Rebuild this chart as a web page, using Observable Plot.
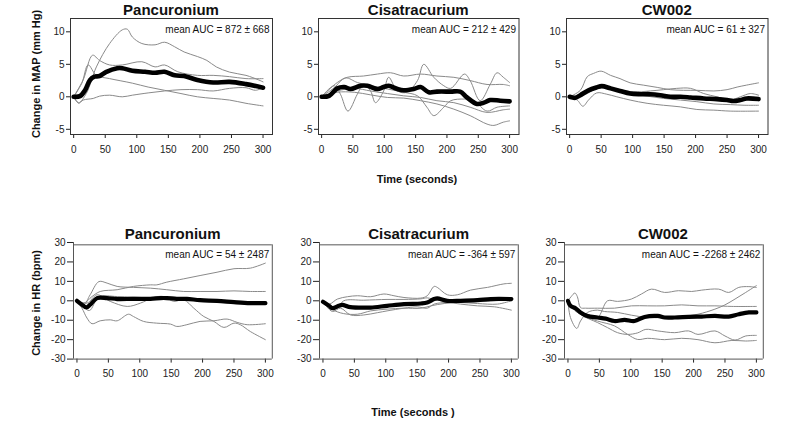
<!DOCTYPE html>
<html>
<head>
<meta charset="utf-8">
<script src="https://cdn.jsdelivr.net/npm/d3@7"></script>
<script src="https://cdn.jsdelivr.net/npm/@observablehq/plot@0.6"></script>
<style>
  body { margin: 0; background: white; }
  #chart { position: relative; width: 800px; height: 422px; overflow: hidden; background: white; font-family: "Liberation Sans", Arial, sans-serif; }
  #chart svg { position: absolute; }
</style>
</head>
<body>
<div id="chart"></div>
<script>
// ---------- data: [time (s), change] ----------
const timeTicks = [0, 50, 100, 150, 200, 250, 300];
const mapTicks = [-5, 0, 5, 10];
const hrTicks = [-30, -20, -10, 0, 10, 20, 30];
const drugs = ["Pancuronium", "Cisatracurium", "CW002"];
const mapAUC = ["mean AUC = 872 ± 668", "mean AUC = 212 ± 429", "mean AUC = 61 ± 327"];
const hrAUC = ["mean AUC = 54 ± 2487", "mean AUC = -364 ± 597", "mean AUC = -2268 ± 2462"];

// MAP – Pancuronium
const mapPancMean = [[0,0],[10,0.1],[18,1],[26,2.6],[33,3.1],[41,3.2],[51,3.8],[69,4.4],[77,4.4],[93,4.0],[113,3.85],[129,3.7],[144,3.85],[160,3.3],[175,3.2],[196,2.6],[221,2.2],[247,2.3],[273,1.95],[300,1.4]];
const mapPanc1 = [[0,0],[8,-0.9],[20,0.5],[36,4.6],[57,8.2],[77,10.3],[85,10.4],[93,9.2],[108,8.2],[129,8.0],[144,8.4],[160,7.7],[175,6.9],[196,6.2],[211,5.6],[226,4.6],[247,3.8],[273,3.3],[293,2.6],[300,2.3]];
const mapPanc2 = [[0,0],[15,2.6],[30,6.4],[41,5.6],[57,4.9],[77,4.9],[108,5.4],[129,4.6],[144,4.9],[165,3.85],[196,3.3],[221,3.3],[247,3.1],[273,2.8],[300,2.8]];
const mapPanc3 = [[0,0],[13,2.1],[23,4.9],[36,3.3],[57,2.8],[93,2.1],[118,1.5],[144,1.0],[170,0.5],[196,0],[221,-0.25],[247,-0.5],[273,-1.0],[300,-1.4]];
const mapPanc4 = [[0,0],[8,-1.0],[15,-0.5],[31,-0.25],[41,0.1],[57,0.25],[77,0],[93,0.25],[118,0.6],[144,0.9],[170,1.1],[196,1.1],[221,0.9],[247,1.3],[273,1.4],[288,1.0],[300,1.4]];

// MAP – Cisatracurium
const mapCisMean = [[0,0],[12,0.15],[25,1.3],[36,1.5],[46,1.2],[62,1.7],[73,1.7],[89,1.2],[99,1.5],[107,1.7],[121,1.2],[131,1.0],[147,1.2],[158,1.5],[171,0.7],[184,0.8],[206,0.8],[221,0.8],[232,-0.1],[248,-1.1],[259,-0.9],[269,-0.5],[285,-0.6],[300,-0.7]];
const mapCis1 = [[0,0],[20,1.7],[30,0.4],[42,-2.2],[57,0.4],[67,1.9],[78,0.9],[86,-0.9],[99,0.9],[107,3.0],[121,0.9],[136,0.7],[153,2.5],[163,5.0],[179,3.0],[195,1.7],[206,1.3],[228,3.5],[237,2.5],[253,-0.6],[269,1.9],[280,3.7],[290,3.0],[300,2.2]];
const mapCis2 = [[0,0],[25,2.2],[41,3.0],[67,3.2],[89,3.5],[110,3.7],[131,3.2],[158,3.5],[184,3.2],[211,3.0],[237,2.5],[264,1.9],[290,1.9],[300,1.7]];
const mapCis3 = [[0,0],[20,1.4],[38,2.9],[57,2.2],[78,1.7],[105,1.2],[131,0.7],[153,0.15],[168,-1.6],[179,-2.9],[195,-1.6],[206,-0.6],[228,-0.35],[243,-0.6],[264,-2.2],[280,-1.6],[300,-1.4]];
const mapCis4 = [[0,0],[25,0.9],[52,1.3],[78,0.9],[105,0.5],[131,0.15],[158,-0.1],[184,-0.6],[211,-0.9],[237,-1.6],[264,-2.4],[290,-2.0],[300,-1.9]];
const mapCis5 = [[0,0],[25,0.7],[52,0.7],[78,0.3],[105,-0.1],[131,-0.2],[158,-0.6],[184,-1.1],[211,-1.9],[237,-2.9],[264,-4.2],[275,-4.4],[290,-3.9],[300,-3.7]];

// MAP – CW002
const mapCwMean = [[0,0],[9,-0.15],[17,0.25],[30,1.0],[43,1.45],[51,1.65],[65,1.3],[80,0.9],[96,0.5],[112,0.4],[128,0.4],[144,0.25],[160,0],[176,0],[192,-0.1],[213,-0.25],[234,-0.35],[250,-0.5],[260,-0.65],[271,-0.5],[281,-0.25],[300,-0.35]];
const mapCw1 = [[0,0],[17,1.0],[28,3.1],[38,3.6],[50,3.95],[65,3.3],[80,2.8],[96,2.15],[117,1.8],[139,1.45],[160,1.1],[181,1.0],[202,1.0],[229,0.9],[250,1.1],[266,1.5],[281,1.8],[300,2.15]];
const mapCw2 = [[0,0],[12,-0.5],[21,-1.45],[30,-0.5],[43,0.6],[59,0.4],[75,0],[96,-0.5],[123,-1.0],[149,-1.3],[176,-1.55],[202,-1.95],[229,-2.05],[255,-2.2],[300,-2.2]];
const mapCw3 = [[0,0],[17,0],[33,1.1],[48,1.5],[70,1.0],[96,0.5],[123,0.1],[149,-0.25],[176,-0.5],[202,-0.75],[229,-1.1],[255,-1.2],[277,-1.3],[300,-1.3]];
const mapCw4 = [[0,0],[22,0.25],[43,1.3],[59,1.5],[80,1.1],[101,0.75],[128,0.9],[149,1.1],[170,1.3],[192,1.3],[213,0.5],[234,0],[255,-0.5],[271,0],[287,0.5],[300,0.25]];

// HR – Pancuronium
const hrPancMean = [[0,0],[8,-2],[15,-3.4],[21,-2],[32,1.4],[48,1.4],[64,0.9],[90,1.0],[117,1.0],[133,1.4],[143,1.4],[159,1.0],[175,1.0],[196,0.3],[223,0],[250,-0.7],[276,-1.2],[300,-1.2]];
const hrPanc1 = [[0,0],[11,-1.2],[24,2.2],[37,4.8],[64,5.7],[90,7.4],[117,8.2],[127,8.2],[143,9.6],[170,11.3],[196,13],[223,14.7],[250,16.5],[276,16.8],[300,19.4]];
const hrPanc2 = [[0,0],[11,-2],[21,3.1],[35,9.9],[48,9.1],[64,7.4],[90,6.9],[117,6.5],[143,5.7],[170,4.8],[196,4.8],[223,4.8],[250,5.1],[276,4.8],[300,4.8]];
const hrPanc3 = [[0,0],[8,-3.8],[16,-8.9],[24,-11.8],[37,-10.3],[53,-9.8],[64,-10.3],[82,-6.9],[90,-8.1],[106,-10.6],[127,-11.5],[149,-12],[159,-13.2],[175,-12.3],[196,-10.6],[218,-10.3],[239,-9.4],[255,-11.1],[271,-12.3],[300,-11.8]];
const hrPanc4 = [[0,0],[16,-1.2],[32,3.1],[53,-0.3],[80,-2.9],[101,-1.2],[122,1.7],[138,2.2],[154,-0.3],[170,0.5],[186,-3.8],[202,-8.1],[218,-10.6],[234,-13.7],[250,-11.5],[260,-12.3],[276,-15.8],[300,-20]];
const hrPanc5 = [[0,0],[10,-3],[20,-5],[35,2],[64,2.2],[117,1.5],[170,1.0],[223,0.5],[276,-0.5],[300,-0.5]];

// HR – Cisatracurium
const hrCisMean = [[0,-0.5],[10,-2.6],[15,-3.8],[25,-2.6],[31,-2.1],[41,-3.1],[60,-3.5],[76,-3.5],[102,-2.6],[129,-1.7],[156,-1.4],[166,-0.9],[177,0.9],[182,1.2],[198,0],[219,0],[246,0.3],[267,0.9],[300,0.9]];
const hrCis1 = [[0,-0.5],[10,-1.7],[23,0.9],[39,2.1],[55,2.6],[76,2.1],[97,3.5],[113,2.6],[129,1.7],[156,1.4],[166,2.6],[177,7.4],[182,6.9],[198,3.1],[214,3.1],[235,5.5],[262,6.9],[288,8.7],[300,9.0]];
const hrCis2 = [[0,-0.5],[12,-4.3],[23,-3.8],[33,0],[65,0.3],[102,0.7],[129,0.7],[156,1.0],[166,1.5],[182,0.3],[246,-0.3],[300,0.7]];
const hrCis3 = [[0,-0.5],[15,-5.5],[28,-3.8],[44,-7.3],[65,-7.3],[87,-6.1],[102,-5.2],[129,-3.8],[150,-3.1],[166,-3.8],[177,-1.7],[198,-0.9],[219,-1.7],[246,-2.6],[273,-3.1],[300,-4.8]];
const hrCis4 = [[0,-0.5],[15,-4.5],[33,-6.6],[55,-6.9],[76,-5.2],[102,-4.3],[129,-3.8],[156,-3.8],[172,-2.6],[193,-1.4],[219,-0.9],[246,-1.4],[278,-1.7],[300,0]];

// HR – CW002
const hrCwMean = [[0,0],[4,-2.6],[12,-3.8],[20,-6],[31,-7.8],[47,-8.6],[60,-9.2],[74,-10.4],[90,-9.8],[106,-10.4],[122,-8.3],[143,-7.8],[154,-8.6],[170,-8.6],[192,-8.3],[213,-8.1],[234,-7.8],[256,-8.1],[272,-6.9],[288,-6.0],[300,-6.0]];
const hrCw1 = [[0,0],[7,-3.5],[15,-6],[31,-6.9],[47,-8.6],[63,0],[79,-0.3],[101,0.9],[117,3.5],[133,6.0],[154,4.3],[176,5.2],[197,4.8],[213,5.5],[240,6.0],[256,4.3],[272,6.9],[288,7.3],[300,6.9]];
const hrCw2 = [[0,0],[5,2.1],[11,4.0],[15,2.1],[20,-3.5],[28,-3.8],[47,-3.8],[74,-3.8],[101,-2.6],[127,-2.6],[154,-2.6],[181,-2.1],[207,-2.6],[234,-2.6],[261,-2.9],[300,-2.9]];
const hrCw3 = [[0,0],[4,-8.6],[14,-14.2],[20,-10.4],[31,-6.0],[47,-4.8],[58,-5.5],[79,-6.0],[101,-7.4],[127,-8.6],[154,-8.6],[181,-8.1],[207,-6.9],[234,-4.3],[250,-2.1],[266,0.9],[283,4.3],[300,7.8]];
const hrCw4 = [[0,0],[20,-7],[47,-10.4],[74,-12.9],[95,-17.3],[111,-19.9],[127,-19.3],[154,-20],[181,-19.3],[207,-20],[234,-21.6],[261,-20.4],[283,-20.7],[300,-20.4]];
const hrCw5 = [[0,0],[20,-7],[47,-11.2],[63,-13.8],[79,-16.4],[95,-17.3],[111,-16.5],[124,-14.7],[143,-15.5],[170,-16.4],[192,-15.5],[207,-17.3],[234,-15.5],[250,-18.1],[266,-20.2],[283,-18.1],[300,-17.8]];

// ---------- panels ----------
const panels = [
  {row: 0, title: drugs[0], auc: mapAUC[0], mean: mapPancMean, lines: [mapPanc1, mapPanc2, mapPanc3, mapPanc4], L: 70, W: 202},
  {row: 0, title: drugs[1], auc: mapAUC[1], mean: mapCisMean, lines: [mapCis1, mapCis2, mapCis3, mapCis4, mapCis5], L: 318, W: 200.5},
  {row: 0, title: drugs[2], auc: mapAUC[2], mean: mapCwMean, lines: [mapCw1, mapCw2, mapCw3, mapCw4], L: 566, W: 201.5},
  {row: 1, title: drugs[0], auc: hrAUC[0], mean: hrPancMean, lines: [hrPanc1, hrPanc2, hrPanc3, hrPanc4, hrPanc5], L: 73.3, W: 198.8},
  {row: 1, title: drugs[1], auc: hrAUC[1], mean: hrCisMean, lines: [hrCis1, hrCis2, hrCis3, hrCis4], L: 319.2, W: 198.8},
  {row: 1, title: drugs[2], auc: hrAUC[2], mean: hrCwMean, lines: [hrCw1, hrCw2, hrCw3, hrCw4, hrCw5], L: 563.5, W: 198.8}
];
const rows = [
  {T: 18.3, H: 116, xDom: [-5, 315], yDom: [-5.8, 12.05], yTicks: mapTicks, ySize: 4, xPad: 7, aucDy: 7, meanW: 4.6},
  {T: 241.7, H: 116.6, xDom: [-5.5, 311], yDom: [-30, 30], yTicks: hrTicks, ySize: 6, xPad: 6.5, aucDy: 8, meanW: 4.2}
];

const mL = 40, mR = 8, mT = 4, mB = 26;
const chart = document.getElementById("chart");
const X = d => d[0], Y = d => d[1];

for (const p of panels) {
  const r = rows[p.row];
  const marks = [];
  for (const l of p.lines) {
    marks.push(Plot.line(l, {x: X, y: Y, stroke: "#8a8a8a", strokeWidth: 1, curve: "catmull-rom"}));
  }
  marks.push(Plot.line(p.mean, {x: X, y: Y, stroke: "#000", strokeWidth: r.meanW, curve: "catmull-rom", strokeLinejoin: "round"}));
  if (p.row === 0) {
    marks.push(Plot.frame({stroke: "#333", strokeWidth: 1}));
  } else {
    const topV = 28.8;
    marks.push(Plot.ruleX([r.xDom[0]], {y1: -30, y2: 30, stroke: "#555"}));
    marks.push(Plot.ruleY([-30], {stroke: "#555"}));
    marks.push(Plot.ruleY([topV], {stroke: "#555"}));
    marks.push(Plot.ruleX([r.xDom[1]], {y1: -30, y2: topV, stroke: "#555"}));
  }
  marks.push(Plot.text([p.auc], {frameAnchor: "top-right", dx: -3, dy: r.aucDy, lineAnchor: "top", textAnchor: "end", fontSize: 10, fill: "#111"}));

  const svg = Plot.plot({
    width: p.W + mL + mR,
    height: r.H + mT + mB,
    marginLeft: mL, marginRight: mR, marginTop: mT, marginBottom: mB,
    style: {fontFamily: '"Liberation Sans", Arial, sans-serif', fontSize: "10px", color: "#222", background: "transparent", overflow: "visible"},
    x: {domain: r.xDom, ticks: timeTicks, tickSize: 4, tickPadding: r.xPad, tickFormat: d => String(d), label: null},
    y: {domain: r.yDom, ticks: r.yTicks, tickSize: r.ySize, tickPadding: 2, tickFormat: d => String(d), label: null},
    marks
  });
  svg.style.left = (p.L - mL) + "px";
  svg.style.top = (r.T - mT) + "px";
  chart.appendChild(svg);
}

// ---------- overlay text: titles and axis labels ----------
const ov = d3.select(chart).append("svg")
  .attr("width", 800).attr("height", 422)
  .style("left", "0px").style("top", "0px")
  .style("font-family", '"Liberation Sans", Arial, sans-serif');

for (const p of panels) {
  ov.append("text")
    .attr("x", p.L + p.W / 2)
    .attr("y", p.row === 0 ? 15 : 238.5)
    .attr("text-anchor", "middle")
    .attr("font-size", 15).attr("font-weight", "bold").attr("fill", "#111")
    .text(p.title);
}
const yLabels = [["Change in MAP (mm Hg)", 74], ["Change in HR (bpm)", 303]];
for (const [txt, cy] of yLabels) {
  ov.append("text")
    .attr("transform", `translate(39.7,${cy}) rotate(-90)`)
    .attr("text-anchor", "middle")
    .attr("font-size", 11).attr("font-weight", "bold").attr("fill", "#111")
    .text(txt);
}
const xLabels = [["Time (seconds)", 417, 183], ["Time (seconds )", 413, 416]];
for (const [txt, cx, by] of xLabels) {
  ov.append("text")
    .attr("x", cx).attr("y", by)
    .attr("text-anchor", "middle")
    .attr("font-size", 11).attr("font-weight", "bold").attr("fill", "#111")
    .text(txt);
}
</script>
</body>
</html>
